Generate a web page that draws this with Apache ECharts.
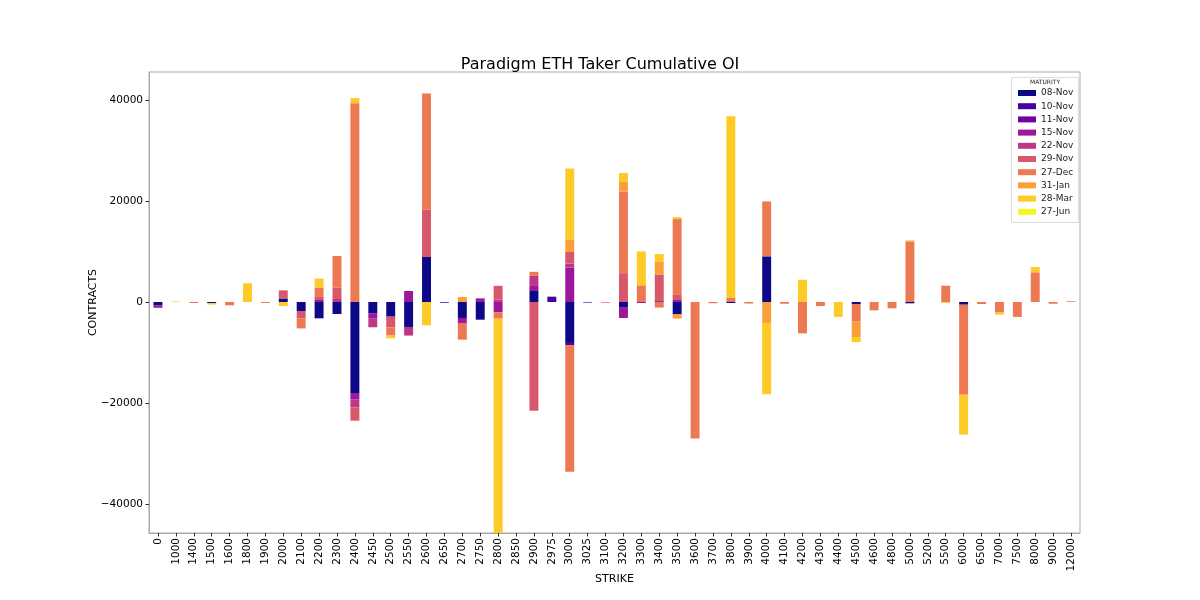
<!DOCTYPE html>
<html>
<head>
<meta charset="utf-8">
<script src="https://cdn.jsdelivr.net/npm/echarts@6/dist/echarts.min.js"></script>
<style>html,body{margin:0;padding:0;background:#fff;}#chart{width:1200px;height:600px;}</style>
</head>
<body>
<div id="chart"></div>
<script>
const strikes = ['0','1000','1400','1500','1600','1800','1900','2000','2100','2200','2300','2400','2450',
  '2500','2550','2600','2650','2700','2750','2800','2850','2900','2975','3000','3025','3100',
  '3200','3300','3400','3500','3600','3700','3800','3900','4000','4100','4200','4300','4400',
  '4500','4600','4800','5000','5200','5500','6000','6500','7000','7500','8000','9000','12000'];

const maturities = ['08-Nov','10-Nov','11-Nov','15-Nov','22-Nov','29-Nov','27-Dec','31-Jan','28-Mar','27-Jun'];
const colors = ['#0d0887','#46039f','#7201a8','#9c179e','#bd3786','#d8576b','#ed7953','#fb9f3a','#fdca26','#f0f921'];

const nov08 = [-700,0,0,-200,0,0,0,700,-1780,-3230,-2370,-18000,-2300,
  -2900,-4940,8900,0,-3160,-3500,0,0,2170,0,-8100,0,0,
  -1000,0,150,-2440,0,0,-200,0,9030,0,0,0,0,
  -400,0,0,-260,0,0,-530,0,0,0,0,0,0];
const nov10 = [0,0,0,0,0,0,0,0,0,0,0,0,0,
  0,0,0,-150,0,0,0,0,0,1050,-460,-120,0,
  0,0,0,0,0,0,0,0,0,0,0,0,0,
  0,0,0,0,0,0,0,0,0,0,0,0,0];
const nov11 = [0,0,0,0,0,0,0,0,0,0,0,0,0,
  0,0,0,0,0,0,0,0,0,0,0,0,0,
  0,0,0,0,0,0,0,0,0,0,0,0,0,
  0,0,0,0,0,0,0,0,0,0,0,0,0];
const nov15 = [-450,0,0,0,0,0,0,0,0,400,0,-1320,-1000,
  0,2170,0,0,-990,720,-2000,0,1000,0,6800,0,0,
  -2170,-200,0,400,0,0,0,0,0,0,0,0,0,
  0,0,0,0,0,0,0,0,0,0,0,0,0];
const nov22 = [0,0,0,0,0,0,0,0,0,0,600,-1520,-1700,
  0,-1700,0,0,0,0,500,0,2000,0,800,0,0,
  0,0,0,0,0,0,0,0,0,0,0,0,0,
  0,0,0,0,0,0,0,0,0,0,0,0,0];
const nov29 = [0,0,0,0,0,0,0,1600,-1450,600,2200,-2640,0,
  -2100,0,9360,0,0,0,2700,0,-21500,0,2300,0,0,
  5700,0,5300,1000,0,0,0,0,0,0,0,0,0,
  0,0,0,0,0,0,0,0,0,0,0,0,0];
const dec27 = [0,0,-200,0,-650,0,-200,0,-2000,1850,6300,39340,0,
  -1650,0,23000,0,-3300,0,-1300,0,800,0,-25000,0,-150,
  16150,3300,-1100,15000,-27000,-250,860,-300,10870,-350,-6200,-800,0,
  -3500,-1650,-1250,12000,0,3230,-17800,-400,-2100,-2950,5870,-350,150];
const jan31 = [0,0,0,0,0,0,0,0,0,0,0,0,0,
  0,0,0,0,990,0,0,0,0,0,2500,0,0,
  2000,0,2570,-850,0,0,0,0,-4150,0,0,0,0,
  -3030,0,0,0,0,0,0,0,0,0,0,0,0];
const mar28 = [0,100,0,-300,0,3700,0,-800,0,1780,0,990,0,
  -530,0,-4600,0,0,0,-43000,0,0,0,14000,0,0,
  1650,6700,1450,400,0,0,35900,0,-14100,0,4400,0,-2950,
  -1000,0,0,200,0,-150,-7900,0,-400,0,1050,0,0];
const jun27 = [0,0,0,0,0,0,0,0,0,0,0,0,0,
  0,0,0,0,0,0,0,0,0,0,0,0,0,
  0,0,0,0,0,0,0,0,0,0,0,0,0,
  0,0,0,0,0,0,0,0,0,0,0,0,0];

const seriesData = [nov08, nov10, nov11, nov15, nov22, nov29, dec27, jan31, mar28, jun27];
const yTicks = [-40000, -20000, 0, 20000, 40000];

const FONT = 'DejaVu Sans';
const chart = echarts.init(document.getElementById('chart'), null, {renderer: 'canvas'});

const series = maturities.map((m, i) => ({
  name: m,
  type: 'bar',
  stack: 'total',
  barWidth: '50%',
  itemStyle: {color: colors[i]},
  data: seriesData[i]
}));

chart.setOption({
  animation: false,
  backgroundColor: '#fff',
  color: colors,
  title: {
    text: 'Paradigm ETH Taker Cumulative OI',
    left: 'center',
    top: 52,
    textStyle: {fontFamily: FONT, fontSize: 16, fontWeight: 'normal', color: '#000'}
  },
  grid: {
    left: 149, right: 120, top: 72, bottom: 67,
    show: true, borderColor: '#aaaaaa', borderWidth: 1
  },
  legend: {
    orient: 'vertical',
    left: 1013,
    top: 83,
    icon: 'rect',
    itemWidth: 18,
    itemHeight: 6,
    itemGap: 3.2,
    data: maturities,
    textStyle: {fontFamily: FONT, fontSize: 9, color: '#222', lineHeight: 10}
  },
  graphic: [
    {type: 'rect', left: 1011, top: 77, shape: {width: 67, height: 145},
     style: {fill: 'rgba(255,255,255,0.8)', stroke: '#dddddd', lineWidth: 1}, z: 0},
    {type: 'text', left: 1030, top: 79,
     style: {text: 'MATURITY', font: '6px "DejaVu Sans"', fill: '#222'}, z: 10}
  ],
  xAxis: {
    type: 'category',
    data: strikes,
    name: 'STRIKE',
    nameLocation: 'middle',
    nameGap: 41,
    nameMoveOverlap: false,
    nameTextStyle: {fontFamily: FONT, fontSize: 11, color: '#000'},
    axisLine: {show: true, onZero: false, lineStyle: {color: '#aaaaaa'}},
    axisTick: {show: true, alignWithLabel: true, interval: 0, inside: false, length: 3.5, lineStyle: {color: '#333'}},
    axisLabel: {interval: 0, rotate: 90, margin: 5, fontFamily: FONT, fontSize: 10.5, color: '#000'},
    splitLine: {show: false}
  },
  yAxis: {
    type: 'value',
    min: -45700,
    max: 45500,
    name: 'CONTRACTS',
    nameLocation: 'middle',
    nameGap: 50,
    nameMoveOverlap: false,
    nameRotate: 90,
    nameTextStyle: {fontFamily: FONT, fontSize: 11, color: '#000'},
    axisLine: {show: true, lineStyle: {color: '#aaaaaa'}},
    axisTick: {show: true, length: 3.5, customValues: yTicks, lineStyle: {color: '#333'}},
    axisLabel: {
      customValues: yTicks,
      margin: 6,
      fontFamily: FONT, fontSize: 10.5, color: '#000',
      formatter: v => String(v).replace('-', '\u2212')
    },
    splitLine: {show: false}
  },
  series: series
});
</script>
</body>
</html>
